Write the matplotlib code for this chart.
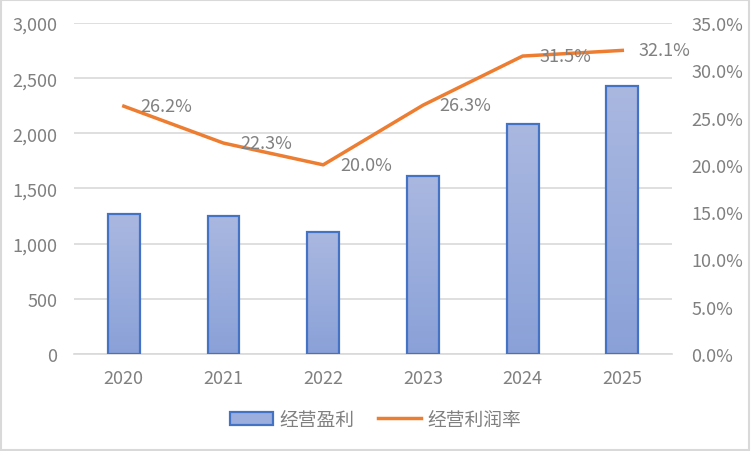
import numpy as np
import matplotlib
matplotlib.use("Agg")
import matplotlib.pyplot as plt
from matplotlib.colors import LinearSegmentedColormap
from matplotlib.patches import Rectangle

plt.rcParams['font.family'] = ['Noto Sans CJK SC', 'DejaVu Sans']

# data ----------------------------------------------------------------
years = ['2020', '2021', '2022', '2023', '2024', '2025']
profit = [1265, 1255, 1110, 1610, 2085, 2425]          # 经营盈利
margin = [26.2, 22.3, 20.0, 26.3, 31.5, 32.1]          # 经营利润率 (%)
left_ticks = [0, 500, 1000, 1500, 2000, 2500, 3000]
right_ticks = [0, 5, 10, 15, 20, 25, 30, 35]
# ---------------------------------------------------------------------

txt = '#808080'
grid = '#D9D9D9'
fs = 13

fig = plt.figure(figsize=(7.51, 4.52), dpi=100)
fig.patch.set_facecolor('white')
fig.add_artist(Rectangle((0.001, 0.002), 0.997, 0.996, transform=fig.transFigure,
                         fill=False, edgecolor=grid, linewidth=1.5))

ax = fig.add_axes([0.0985, 0.2146, 0.7965, 0.7324])
x = np.arange(len(years))
bars = ax.bar(x, profit, width=0.32, facecolor='#9BAEDD', edgecolor='#4472C4',
              linewidth=1.6, zorder=3, label='经营盈利')

# gradient fill in each bar
cmap = LinearSegmentedColormap.from_list('g', ['#8AA1D8', '#AAB8E0'])
grad = np.linspace(0, 1, 256).reshape(-1, 1)
for b in bars:
    im = ax.imshow(grad, cmap=cmap, aspect='auto', origin='lower',
                   extent=[b.get_x(), b.get_x() + b.get_width(), 0, b.get_height()],
                   zorder=3.5)
    im.set_clip_path(b)
    b.set_facecolor('none')
    b.set_zorder(4)

ax.set_xlim(-0.5, len(years) - 0.5)
ax.set_ylim(0, 3000)
ax.set_yticks(left_ticks)
ax.set_yticklabels(['{:,}'.format(v) for v in left_ticks])
ax.set_xticks(x)
ax.set_xticklabels(years)
ax.grid(axis='y', color=grid, linewidth=1.2, zorder=0)
ax.set_axisbelow(True)
for s in ['top', 'right', 'left']:
    ax.spines[s].set_visible(False)
ax.spines['bottom'].set_color(grid)
ax.spines['bottom'].set_linewidth(1.2)
ax.tick_params(axis='both', length=0, colors=txt, labelsize=fs)
ax.tick_params(axis='y', pad=12)
ax.tick_params(axis='x', pad=11)

ax2 = ax.twinx()
ax2.plot(x, margin, color='#ED7D31', linewidth=2.5, zorder=5, label='经营利润率')
ax2.set_ylim(0, 35)
ax2.set_yticks(right_ticks)
ax2.set_yticklabels(['{:.1f}%'.format(v) for v in right_ticks])
for s in ax2.spines.values():
    s.set_visible(False)
ax2.tick_params(axis='y', length=0, colors=txt, labelsize=fs, pad=14)
for xi, m in zip(x, margin):
    ax2.annotate('{:.1f}%'.format(m), (xi, m), xytext=(12, 0), textcoords='offset points',
                 ha='left', va='center', color=txt, fontsize=fs, zorder=6)

h1, l1 = ax.get_legend_handles_labels()
h2, l2 = ax2.get_legend_handles_labels()
leg = fig.legend(h1 + h2, l1 + l2, loc='center', bbox_to_anchor=(0.5, 0.07), ncol=2,
                 frameon=False, fontsize=13.5, handlelength=2.3, handletextpad=0.3,
                 columnspacing=1.3)
for t in leg.get_texts():
    t.set_color(txt)
leg.legend_handles[0].set_facecolor('#9BAEDD')

fig.savefig('out.png', dpi=100)
